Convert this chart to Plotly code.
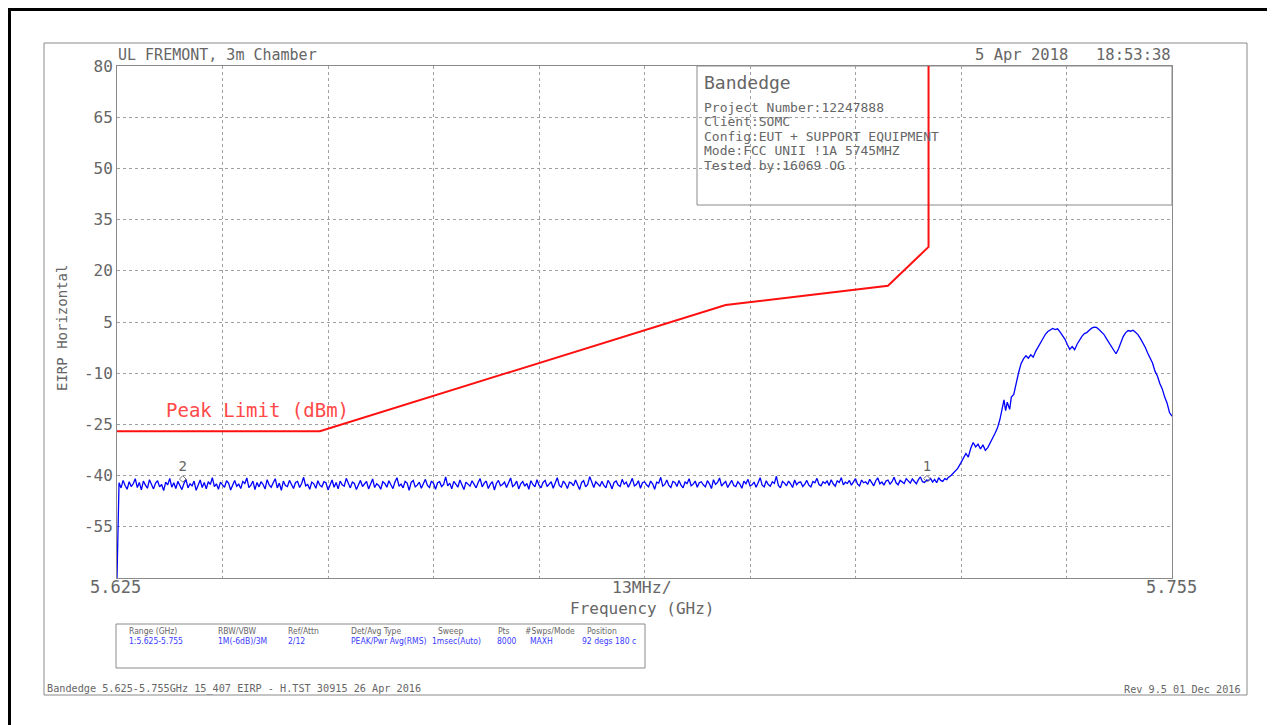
import numpy as np
import plotly.graph_objects as go

# ---------------- data ----------------
# Peak limit line (GHz, dBm)
limit_freq = [5.625, 5.650, 5.700, 5.720, 5.725, 5.725]
limit_dbm = [-27.0, -27.0, 10.0, 15.6, 27.0, 80.0]

# Noise-floor sweep section: start/step of the sweep points
floor_start_ghz = 5.625
floor_step_ghz = 0.00025
floor_dbm = [
    -70.0, -42.1, -43.6, -41.4, -42.9, -44.0, -41.8, -43.2, -42.4, -40.9,
    -43.5, -42.0, -44.2, -41.6, -42.8, -43.7, -41.2, -42.5, -43.9, -42.2,
    -41.5, -43.3, -42.6, -44.4, -41.9, -42.7, -40.8, -43.4, -42.1, -43.8,
    -41.7, -42.9, -44.1, -42.3, -41.1, -43.6, -42.4, -43.0, -41.6, -44.3,
    -42.8, -41.3, -43.5, -42.0, -43.9, -41.8, -42.6, -40.6, -43.2, -42.4,
    -44.0, -41.9, -42.7, -43.4, -41.5, -42.2, -44.2, -42.9, -41.4, -43.1,
    -42.5, -43.8, -41.7, -42.3, -40.7, -43.5, -42.8, -41.6, -44.1, -42.0,
    -43.3, -41.8, -42.6, -43.9, -41.2, -42.7, -43.4, -42.1, -40.9, -43.6,
    -42.2, -44.3, -41.6, -42.9, -43.2, -41.4, -42.5, -43.8, -42.0, -41.7,
    -43.5, -42.3, -40.5, -43.0, -42.6, -44.0, -41.9, -42.4, -43.7, -41.5,
    -42.8, -43.3, -41.8, -42.1, -44.2, -42.6, -41.3, -43.4, -42.0, -43.9,
    -41.6, -42.7, -43.1, -40.8, -42.5, -43.6, -41.9, -42.3, -44.1, -42.8,
    -41.4, -43.2, -42.6, -41.7, -43.9, -42.2, -41.0, -43.5, -42.4, -42.9,
    -44.0, -41.8, -42.3, -43.4, -41.5, -42.7, -43.8, -41.9, -40.6, -43.1,
    -42.5, -43.6, -41.7, -42.2, -44.3, -42.0, -41.4, -43.3, -42.8, -41.9,
    -43.7, -42.4, -41.1, -42.9, -43.5, -41.6, -42.3, -44.0, -42.1, -41.8,
    -43.2, -42.6, -40.4, -43.0, -42.2, -43.9, -41.7, -42.5, -43.4, -41.3,
    -42.7, -44.1, -41.9, -42.4, -43.1, -41.5, -42.8, -43.6, -42.0, -40.9,
    -43.3, -42.2, -41.6, -43.8, -42.5, -41.8, -44.2, -42.3, -41.4, -43.0,
    -42.6, -41.9, -43.5, -42.1, -40.7, -43.2, -42.7, -41.6, -43.9, -42.4,
    -41.7, -43.1, -42.3, -44.0, -41.5, -42.6, -43.3, -41.2, -42.8, -43.6,
    -42.0, -41.4, -43.2, -42.5, -41.8, -43.7, -42.1, -40.6, -42.9, -43.4,
    -41.6, -42.4, -43.8, -41.9, -42.2, -43.0, -41.3, -42.7, -44.1, -42.0,
    -41.5, -43.3, -42.6, -40.3, -42.1, -43.5, -41.8, -42.4, -43.1, -41.7,
    -42.9, -43.6, -41.4, -42.3, -43.9, -42.0, -41.6, -42.8, -43.2, -41.1,
    -42.5, -41.9, -43.4, -42.2, -40.8, -43.0, -42.6, -41.5, -43.7, -42.1,
    -41.8, -42.7, -43.3, -41.6, -42.4, -44.0, -41.9, -42.2, -40.5, -43.1,
    -42.6, -41.3, -42.9, -43.5, -41.7, -42.0, -43.2, -41.4, -42.8, -43.6,
    -41.9, -42.3, -40.9, -43.0, -42.5, -41.6, -43.4, -42.1, -41.8, -42.7,
    -43.3, -41.5, -42.4, -43.8, -41.2, -42.6, -42.0, -40.7, -43.1, -42.3,
    -41.7, -43.5, -42.2, -41.4, -42.9, -43.2, -41.8, -42.5, -43.7, -41.6,
    -42.4, -41.1, -43.0, -42.7, -41.9, -43.4, -42.1, -40.6, -42.8, -43.3,
    -41.5, -42.6, -43.1, -41.8, -42.3, -40.2, -42.9, -43.6, -41.7, -42.2,
    -43.0, -41.6, -42.4, -43.5, -41.3, -42.7, -42.0, -41.9, -43.2, -42.5,
    -41.4, -42.8, -43.3, -41.7, -42.1, -40.8, -42.6, -43.0, -41.8, -42.3,
    -41.6, -42.9, -41.2, -42.4, -43.1, -41.5, -42.0, -40.6, -42.7, -41.9,
    -42.3, -41.4, -42.8, -41.7, -40.9, -42.5, -43.0, -41.3, -42.1, -41.8,
    -42.6, -41.1, -42.2, -43.0, -41.5, -40.7, -42.4, -41.9, -42.8, -41.6,
    -41.3, -42.5, -41.8, -40.5, -42.1, -42.7, -41.4, -41.9, -42.3, -40.9,
    -41.7, -42.2, -41.0, -41.6, -42.4, -41.2, -40.4, -41.8, -42.0, -41.3,
    -41.5, -40.8, -41.9, -41.1, -42.1, -40.6, -41.4, -41.7, -40.9, -41.2,
]

# Emission section (GHz, dBm)
emis_freq = [
    5.7274, 5.7278, 5.7282, 5.7286, 5.7290, 5.7293, 5.7296, 5.7299, 5.7302, 5.7305,
    5.7308, 5.7311, 5.7314, 5.7317, 5.7320, 5.7323, 5.7326, 5.7329, 5.7332, 5.7335,
    5.7338, 5.7341, 5.7343, 5.7345, 5.7347, 5.7350, 5.7352, 5.7355, 5.7358, 5.7361,
    5.7364, 5.7367, 5.7370, 5.7373, 5.7376, 5.7379, 5.7382, 5.7385, 5.7388, 5.7391,
    5.7394, 5.7397, 5.7400, 5.7403, 5.7406, 5.7409, 5.7412, 5.7415, 5.7418, 5.7421,
    5.7424, 5.7427, 5.7430, 5.7433, 5.7436, 5.7439, 5.7442, 5.7445, 5.7448, 5.7451,
    5.7454, 5.7457, 5.7460, 5.7463, 5.7466, 5.7469, 5.7472, 5.7475, 5.7478, 5.7481,
    5.7484, 5.7487, 5.7490, 5.7493, 5.7496, 5.7499, 5.7502, 5.7505, 5.7508, 5.7511,
    5.7514, 5.7517, 5.7520, 5.7523, 5.7526, 5.7529, 5.7532, 5.7535, 5.7538, 5.7541,
    5.7544, 5.7547, 5.7550,
]
emis_dbm = [
    -40.6, -39.9, -38.8, -37.9, -36.2, -34.8, -33.5, -34.6, -32.0, -30.3,
    -31.6, -30.8, -32.2, -31.0, -32.6, -31.8, -30.2, -29.0, -27.6, -26.0,
    -23.5, -20.2, -17.8, -21.0, -18.5, -20.6, -17.0, -16.2, -12.5, -9.8,
    -7.2, -5.8, -4.9, -5.6, -4.6, -5.3, -3.6, -2.4, -1.0, 0.3,
    1.4, 2.2, 2.7, 3.1, 2.8, 3.0, 2.1, 1.2, 0.0, -1.6,
    -3.0, -2.2, -3.1, -1.5, -0.2, 0.8, 1.6, 1.9, 2.6, 3.2,
    3.5, 3.4, 2.8, 2.0, 1.4, 0.2, -1.0, -2.2, -3.5, -4.3,
    -2.9, -1.0, 0.8, 1.9, 2.5, 2.3, 2.6, 2.0, 1.3, 0.2,
    -0.9, -2.4, -4.1, -5.8, -7.0, -9.4, -10.8, -13.0, -14.6, -17.0,
    -18.8, -21.6, -22.6,
]

# Markers
marker_labels = ["1", "2"]
marker_freq = [5.7248, 5.6331]
marker_dbm = [-40.9, -41.0]

# Axis ticks
x_ticks = [5.625, 5.638, 5.651, 5.664, 5.677, 5.690, 5.703, 5.716, 5.729, 5.742, 5.755]
x_label_left = "5.625"
x_label_mid = "13MHz/"
x_label_right = "5.755"
y_ticks = [80, 65, 50, 35, 20, 5, -10, -25, -40, -55]
y_ticktext = ["80", "65", "50", "35", "20", "5", "-10", "-25", "-40", "-55"]

info_title = "Bandedge"
info_lines = [
    "Project Number:12247888",
    "Client:SOMC",
    "Config:EUT + SUPPORT EQUIPMENT",
    "Mode:FCC UNII !1A 5745MHZ",
    "Tested by:16069 OG",
]
table_headers = ["Range (GHz)", "RBW/VBW", "Ref/Attn", "Det/Avg Type", "Sweep", "Pts", "#Swps/Mode", "Position"]
table_values = ["1:5.625-5.755", "1M(-6dB)/3M", "2/12", "PEAK/Pwr Avg(RMS)", "1msec(Auto)", "8000", "MAXH", "92 degs 180 c"]

# ---------------- build ----------------
floor_freq = floor_start_ghz + floor_step_ghz * np.arange(len(floor_dbm))
trace_freq = list(floor_freq) + emis_freq
trace_dbm = floor_dbm + emis_dbm

OFF = 8                      # browser body margin
W, H = 1275 - OFF, 725 - OFF
L, R, T, B = 117, 1172, 66, 578   # plot area in page pixels


def px(x):
    return (x - L) / (R - L)


def py(y):
    return (B - y) / (B - T)


FONT = "DejaVu Sans Mono"
TFONT = "DejaVu Sans Condensed"
GRAY = "#666666"
FRAME = "#8a8a8a"

fig = go.Figure()
fig.add_trace(go.Scatter(x=trace_freq, y=trace_dbm, mode="lines",
                         line=dict(color="#0000ff", width=1.3), hoverinfo="skip"))
fig.add_trace(go.Scatter(x=limit_freq, y=limit_dbm, mode="lines",
                         line=dict(color="#ff1010", width=2), hoverinfo="skip"))
fig.add_trace(go.Scatter(x=marker_freq, y=marker_dbm, mode="markers+text",
                         text=marker_labels, textposition="top center",
                         textfont=dict(family=FONT, size=14, color=GRAY),
                         marker=dict(symbol="diamond-open", size=5, color="#777777", line=dict(width=1)),
                         hoverinfo="skip"))

shapes = [
    # black outer border (left/top)
    dict(type="line", xref="paper", yref="paper", x0=px(9.5), x1=px(9.5), y0=py(8), y1=py(730),
         line=dict(color="black", width=3)),
    dict(type="line", xref="paper", yref="paper", x0=px(8), x1=px(1280), y0=py(9.5), y1=py(9.5),
         line=dict(color="black", width=3)),
    # gray page frame
    dict(type="rect", xref="paper", yref="paper", x0=px(44), x1=px(1247), y0=py(43), y1=py(695),
         line=dict(color=FRAME, width=1), layer="below"),
    # info box
    dict(type="rect", xref="paper", yref="paper", x0=px(697), x1=px(1172), y0=py(66), y1=py(205),
         line=dict(color=FRAME, width=1), fillcolor="white", layer="between"),
    # settings table box
    dict(type="rect", xref="paper", yref="paper", x0=px(116), x1=px(645), y0=py(624), y1=py(668),
         line=dict(color=FRAME, width=1), layer="below"),
]

ann = []


def add_text(text, x, y, size, color=GRAY, xanchor="left", yanchor="middle", angle=0, family=FONT):
    ann.append(dict(text=text, x=px(x), y=py(y), xref="paper", yref="paper", showarrow=False,
                    xanchor=xanchor, yanchor=yanchor, textangle=angle,
                    font=dict(family=family, size=size, color=color)))


add_text("UL FREMONT, 3m Chamber", 116, 55, 15)
add_text("5 Apr 2018", 1070, 55, 15.5, xanchor="right")
add_text("18:53:38", 1173, 55, 15.5, xanchor="right")
add_text(info_title, 702, 82, 18)
for i, s in enumerate(info_lines):
    add_text(s, 702, 107 + i * 14.5, 13)
add_text("Peak Limit (dBm)", 257, 410, 19, color="#ff4848", xanchor="center")
add_text("EIRP Horizontal", 62, 328, 14, xanchor="center", angle=-90)
add_text(x_label_left, 115, 587, 17, xanchor="center")
add_text(x_label_mid, 642, 587, 16.5, xanchor="center")
add_text(x_label_right, 1171, 587, 17, xanchor="center")
add_text("Frequency (GHz)", 642, 608, 16, xanchor="center")

head_x = [127, 216, 286, 349, 436, 496, 523, 585]
val_x = [127, 216, 286, 349, 430, 495, 528, 580]
for hx, vx, h, v in zip(head_x, val_x, table_headers, table_values):
    add_text(h, hx, 630.5, 8.5, family=TFONT)
    add_text(v, vx, 641, 8.5, color="#3a3aff", family=TFONT)

add_text("Bandedge 5.625-5.755GHz 15_407 EIRP - H.TST 30915 26 Apr 2016", 45, 689, 10.2)
add_text("Rev 9.5 01 Dec 2016", 1243, 689, 10.2, xanchor="right")

fig.update_layout(
    width=W, height=H, autosize=False,
    margin=dict(l=L - OFF, r=W - (R - OFF), t=T - OFF, b=H - (B - OFF), pad=0),
    paper_bgcolor="white", plot_bgcolor="white",
    showlegend=False,
    shapes=shapes, annotations=ann,
    xaxis=dict(range=[5.625, 5.755], tickvals=x_ticks, showticklabels=False,
               showgrid=True, gridcolor="#a0a0a0", griddash="dot", gridwidth=1,
               zeroline=False, showline=True, linecolor=FRAME, linewidth=1, mirror=True,
               ticks=""),
    yaxis=dict(range=[-70, 80], tickvals=y_ticks, ticktext=y_ticktext,
               showgrid=True, gridcolor="#a0a0a0", griddash="dot", gridwidth=1,
               zeroline=False, showline=True, linecolor=FRAME, linewidth=1, mirror=True,
               ticks="", tickfont=dict(family=FONT, size=16, color=GRAY)),
)

fig.write_html("out.html")
